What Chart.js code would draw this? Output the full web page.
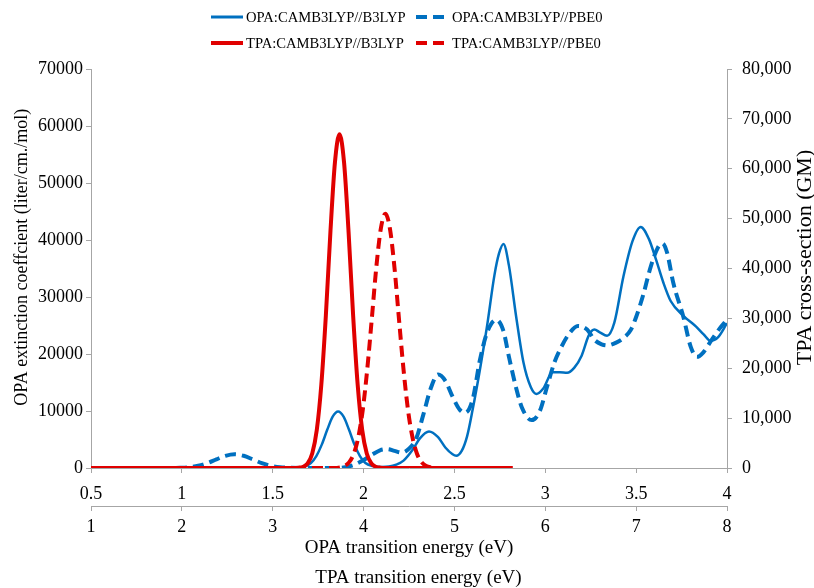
<!DOCTYPE html>
<html>
<head>
<meta charset="utf-8">
<script src="https://cdn.jsdelivr.net/npm/chart.js@4.4.1/dist/chart.umd.min.js"></script>
<style>
  body { margin: 0; background: #fff; }
  #wrap { position: relative; width: 814px; height: 588px; }
  #legend {
    position: absolute; left: 211px; top: 4px;
    display: grid; grid-template-columns: 205px auto;
    font: 14.6px 'Liberation Serif', 'Times New Roman', serif; color: #000;
  }
  .item { display: flex; align-items: center; height: 26px; white-space: nowrap; }
  .item canvas { display: block; }
</style>
</head>
<body>
<div id="wrap">
  <div id="legend"></div>
  <canvas id="spectrumChart" width="814" height="588"></canvas>
</div>
<script>
// OPA spectra (x: OPA energy in eV, y: extinction coefficient)
const opaB3lypEnergy = [0.5, 1.0, 1.5, 1.60, 1.65, 1.68, 1.71, 1.74, 1.77, 1.80, 1.83, 1.86, 1.89, 1.92, 1.95, 1.98, 2.01, 2.05, 2.10, 2.14, 2.18, 2.22, 2.27, 2.31, 2.36, 2.41, 2.45, 2.49, 2.51, 2.54, 2.57, 2.60, 2.64, 2.68, 2.72, 2.745, 2.77, 2.80, 2.84, 2.88, 2.92, 2.95, 2.99, 3.04, 3.08, 3.12, 3.16, 3.20, 3.24, 3.27, 3.30, 3.34, 3.38, 3.43, 3.48, 3.525, 3.57, 3.61, 3.65, 3.69, 3.76, 3.83, 3.87, 3.91, 3.95, 4.0];
const opaB3lypEps = [0, 0, 0, 0, 80, 300, 870, 2100, 4100, 6700, 9000, 9900, 9000, 6700, 4100, 2100, 870, 350, 180, 250, 600, 1300, 3200, 5200, 6400, 5400, 3600, 2400, 2150, 3000, 5600, 10200, 17200, 25000, 33800, 37600, 39300, 35500, 26500, 18500, 14200, 13000, 14000, 16800, 16800, 16700, 17600, 19700, 23300, 24300, 23800, 23200, 25500, 33600, 39800, 42300, 40200, 36500, 32500, 29300, 26700, 24800, 23500, 22300, 22900, 25400];

const opaPbe0Energy = [0.5, 0.95, 0.99, 1.04, 1.09, 1.14, 1.19, 1.24, 1.29, 1.34, 1.39, 1.44, 1.49, 1.54, 1.59, 1.65, 1.85, 1.90, 1.95, 2.0, 2.05, 2.09, 2.13, 2.17, 2.21, 2.25, 2.29, 2.33, 2.37, 2.41, 2.45, 2.49, 2.53, 2.56, 2.60, 2.64, 2.68, 2.73, 2.77, 2.80, 2.84, 2.87, 2.925, 2.97, 3.01, 3.05, 3.08, 3.13, 3.18, 3.23, 3.27, 3.31, 3.34, 3.39, 3.43, 3.47, 3.50, 3.54, 3.58, 3.62, 3.645, 3.67, 3.705, 3.76, 3.80, 3.835, 3.87, 3.91, 3.96, 4.0];
const opaPbe0Eps = [0, 0, 40, 140, 390, 860, 1520, 2140, 2400, 2140, 1520, 860, 390, 140, 40, 0, 0, 150, 600, 1400, 2400, 3100, 3300, 3000, 2700, 3400, 5200, 9500, 14000, 16400, 15300, 12500, 10200, 9700, 12000, 18900, 23800, 26000, 24000, 19500, 14000, 10700, 8400, 10000, 14300, 18500, 20700, 23500, 24900, 24300, 22500, 21700, 21500, 22000, 22800, 24200, 26500, 30500, 35300, 38700, 39400, 37800, 32400, 26500, 21300, 19500, 20300, 22200, 24500, 26000];

// TPA spectra (x: TPA energy in eV, y: cross-section in GM)
const tpaB3lypEnergy = [1.0, 3.22, 3.285, 3.335, 3.385, 3.435, 3.485, 3.535, 3.585, 3.635, 3.685, 3.735, 3.785, 3.835, 3.885, 3.935, 3.985, 4.035, 4.085, 4.135, 4.185, 4.25, 5.64];
const tpaB3lypGm = [0, 0, 60, 260, 950, 2900, 7600, 16700, 30600, 47300, 61300, 66900, 61300, 47300, 30600, 16700, 7600, 2900, 950, 260, 60, 0, 0];

const tpaPbe0Energy = [1.0, 3.68, 3.74, 3.79, 3.84, 3.89, 3.94, 3.99, 4.04, 4.09, 4.14, 4.19, 4.24, 4.29, 4.34, 4.39, 4.44, 4.49, 4.54, 4.59, 4.64, 4.69, 4.74, 4.80, 5.64];
const tpaPbe0Gm = [0, 0, 130, 410, 1130, 2760, 6000, 11500, 19700, 29800, 40200, 48000, 51000, 48000, 40200, 29800, 19700, 11500, 6000, 2760, 1130, 410, 130, 0, 0];

// ticks
const opaTicks = [0.5, 1, 1.5, 2, 2.5, 3, 3.5, 4];
const tpaTicks = [1, 2, 3, 4, 5, 6, 7, 8];
const epsTicks = [0, 10000, 20000, 30000, 40000, 50000, 60000, 70000];
const gmTicks = [0, 10000, 20000, 30000, 40000, 50000, 60000, 70000, 80000];

const seriesNames = ['OPA:CAMB3LYP//B3LYP', 'OPA:CAMB3LYP//PBE0', 'TPA:CAMB3LYP//B3LYP', 'TPA:CAMB3LYP//PBE0'];
const gmTitle = 'TPA cross-section (GM)';

const FONT = "'Liberation Serif', 'Times New Roman', serif";
const BLUE = '#0070C0';
const RED = '#E00000';
const AXIS = '#a6a6a6';

function toPoints(xs, ys) {
  return xs.map((x, i) => ({ x: x, y: ys[i] }));
}

const datasets = [
  { label: seriesNames[0], data: toPoints(opaB3lypEnergy, opaB3lypEps), borderColor: BLUE, borderWidth: 2.5, xAxisID: 'x', yAxisID: 'y', order: 4 },
  { label: seriesNames[1], data: toPoints(opaPbe0Energy, opaPbe0Eps), borderColor: BLUE, borderWidth: 4, borderDash: [11, 6], xAxisID: 'x', yAxisID: 'y', order: 3 },
  { label: seriesNames[2], data: toPoints(tpaB3lypEnergy, tpaB3lypGm), borderColor: RED, borderWidth: 4, xAxisID: 'x2', yAxisID: 'y2', order: 1 },
  { label: seriesNames[3], data: toPoints(tpaPbe0Energy, tpaPbe0Gm), borderColor: RED, borderWidth: 4, borderDash: [11, 6], xAxisID: 'x2', yAxisID: 'y2', order: 2 }
];

// title of the right axis reads bottom-to-top, so draw it here
const rightTitle = {
  id: 'rightTitle',
  afterDraw(chart) {
    const { ctx, chartArea } = chart;
    ctx.save();
    ctx.translate(805, (chartArea.top + chartArea.bottom) / 2 - 11);
    ctx.rotate(-Math.PI / 2);
    ctx.font = '22px ' + FONT;
    ctx.fillStyle = '#000';
    ctx.textAlign = 'center';
    ctx.textBaseline = 'middle';
    ctx.fillText(gmTitle, 0, 0);
    ctx.restore();
  }
};

const tickFont = { family: FONT, size: 18 };

const ctx = document.getElementById('spectrumChart').getContext('2d');
const chart = new Chart(ctx, {
  type: 'line',
  data: { datasets: datasets },
  plugins: [rightTitle],
  options: {
    responsive: false,
    animation: false,
    layout: { padding: { top: 69, left: 0, right: 0, bottom: 0 } },
    elements: {
      point: { radius: 0 },
      line: { cubicInterpolationMode: 'monotone', fill: false }
    },
    plugins: { legend: { display: false }, tooltip: { enabled: false } },
    scales: {
      x: {
        type: 'linear', position: 'bottom', weight: 0,
        min: 0.5, max: 4,
        afterBuildTicks: s => { s.ticks = opaTicks.map(v => ({ value: v })); },
        afterFit: s => { s.height = 38; },
        ticks: { font: tickFont, color: '#000', padding: 10, maxRotation: 0, callback: v => String(v) },
        grid: { drawOnChartArea: false, tickLength: 5, color: AXIS },
        border: { color: AXIS }
      },
      x2: {
        type: 'linear', position: 'bottom', weight: 1,
        min: 1, max: 8,
        afterBuildTicks: s => { s.ticks = tpaTicks.map(v => ({ value: v })); },
        afterFit: s => { s.height = 82; },
        ticks: { font: tickFont, color: '#000', padding: 5, maxRotation: 0, callback: v => String(v) },
        grid: { drawOnChartArea: false, tickLength: 5, color: AXIS },
        border: { color: AXIS },
        title: {
          display: true,
          text: ['OPA transition energy (eV)', '    TPA transition energy (eV)'],
          font: { family: FONT, size: 19, lineHeight: 1.58 },
          color: '#000',
          padding: { top: 0, bottom: -5 }
        }
      },
      y: {
        type: 'linear', position: 'left',
        min: 0, max: 70000,
        afterBuildTicks: s => { s.ticks = epsTicks.map(v => ({ value: v })); },
        afterFit: s => { s.width = 91; },
        ticks: { font: tickFont, color: '#000', padding: 3, callback: v => String(v) },
        grid: { drawOnChartArea: false, tickLength: 5, color: AXIS },
        border: { color: AXIS },
        title: {
          display: true,
          text: '     OPA extinction coeffcient (liter/cm./mol)',
          font: { family: FONT, size: 18, lineHeight: 1.2 },
          color: '#000',
          padding: { top: 11, bottom: 0 }
        }
      },
      y2: {
        type: 'linear', position: 'right',
        min: 0, max: 80000,
        afterBuildTicks: s => { s.ticks = gmTicks.map(v => ({ value: v })); },
        afterFit: s => { s.width = 87; },
        ticks: { font: tickFont, color: '#000', padding: 10, callback: v => v.toLocaleString('en-US') },
        grid: { drawOnChartArea: false, tickLength: 5, color: AXIS },
        border: { color: AXIS }
      }
    }
  }
});

// legend, two rows of two, built from the datasets
const legendBox = document.getElementById('legend');
chart.data.datasets.forEach(ds => {
  const item = document.createElement('div');
  item.className = 'item';
  const dashed = !!ds.borderDash;
  const sample = document.createElement('canvas');
  sample.width = dashed ? 28 : 32;
  sample.height = 10;
  sample.style.marginRight = dashed ? '8px' : '3px';
  const sctx = sample.getContext('2d');
  sctx.strokeStyle = ds.borderColor;
  sctx.lineWidth = dashed ? 4 : (ds.borderWidth < 3 ? 3 : 4);
  if (dashed) sctx.setLineDash(ds.borderDash);
  sctx.beginPath();
  sctx.moveTo(0, 5);
  sctx.lineTo(sample.width, 5);
  sctx.stroke();
  const text = document.createElement('span');
  text.textContent = ds.label;
  item.appendChild(sample);
  item.appendChild(text);
  legendBox.appendChild(item);
});
</script>
</body>
</html>
